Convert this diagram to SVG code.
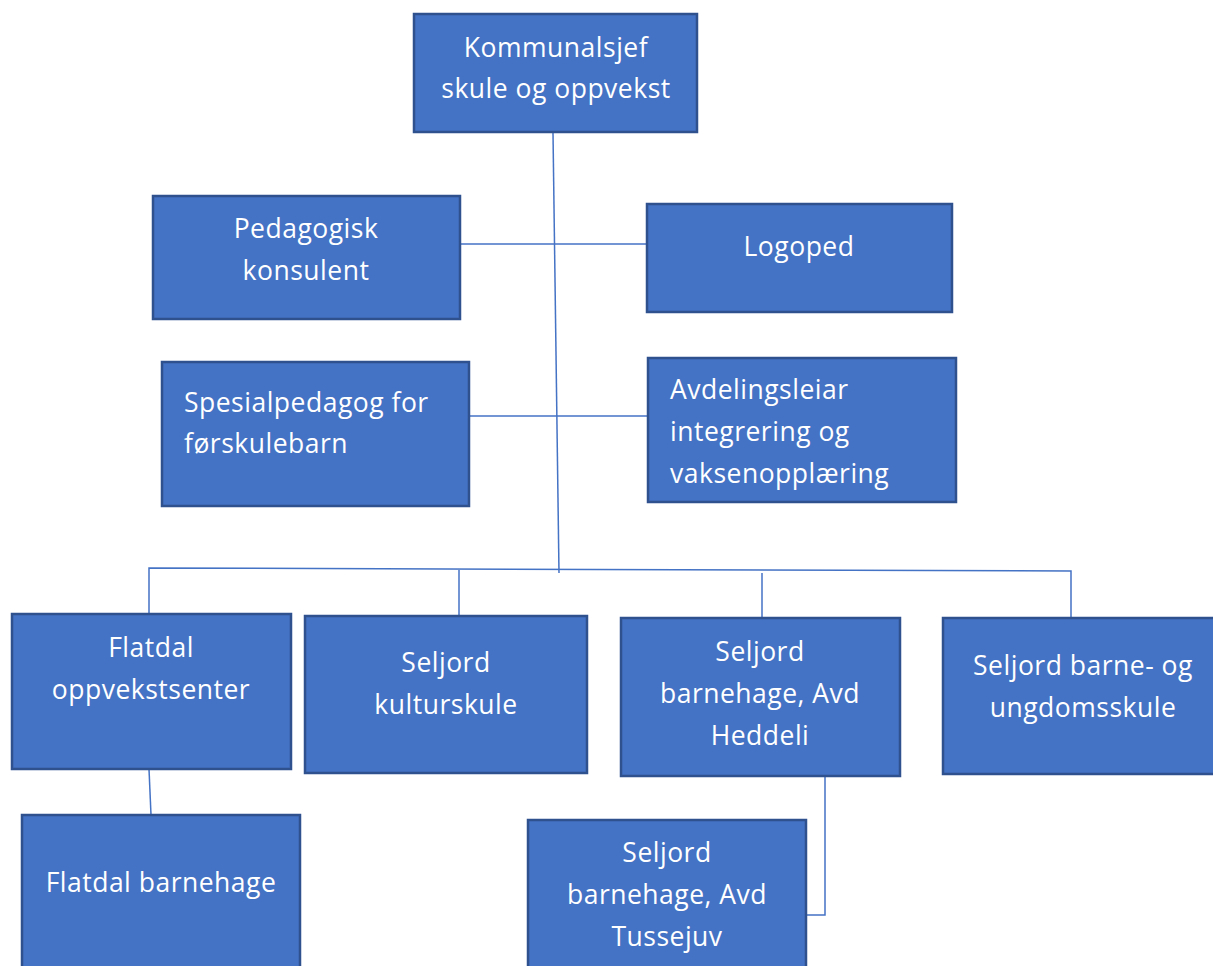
<svg xmlns="http://www.w3.org/2000/svg" width="1213" height="966" viewBox="0 0 1213 966">
<style>
.box{fill:#4472C4;stroke:#2F528F;stroke-width:2.5}
.t{font-family:"Open Sans","Liberation Sans",sans-serif;font-size:26.5px;letter-spacing:0.5px;fill:#fff}
.c{text-anchor:middle}
.ln{stroke:#4472C4;stroke-width:1.5;fill:none}
</style>
<rect width="1213" height="966" fill="#fff"/>
<g id="connectors">
<line class="ln" x1="553" y1="133" x2="559" y2="573"/>
<polyline class="ln" points="149,614 149,568 1071,571 1071,618"/>
<line class="ln" x1="459" y1="570" x2="459" y2="616"/>
<line class="ln" x1="762" y1="573" x2="762" y2="618"/>
<line class="ln" x1="460" y1="244" x2="647" y2="244"/>
<line class="ln" x1="469" y1="416" x2="648" y2="416"/>
<line class="ln" x1="149" y1="769" x2="151" y2="815"/>
<polyline class="ln" points="825,776 825,915 806,915"/>
</g>
<g id="n-kommunalsjef"><rect class="box" x="414" y="14" width="283" height="118"/>
<text class="t c" x="556" y="57">Kommunalsjef</text><text class="t c" x="556" y="98">skule og oppvekst</text></g>
<g id="n-pedagogisk"><rect class="box" x="153" y="196" width="307" height="123"/>
<text class="t c" x="306" y="238">Pedagogisk</text><text class="t c" x="306" y="280">konsulent</text></g>
<g id="n-logoped"><rect class="box" x="647" y="204" width="305" height="108"/>
<text class="t c" x="799" y="256">Logoped</text></g>
<g id="n-spesial"><rect class="box" x="162" y="362" width="307" height="144"/>
<text class="t" x="184" y="412">Spesialpedagog for</text><text class="t" x="184" y="453">førskulebarn</text></g>
<g id="n-avdeling"><rect class="box" x="648" y="358" width="308" height="144"/>
<text class="t" x="670" y="399">Avdelingsleiar</text><text class="t" x="670" y="441">integrering og</text><text class="t" x="670" y="483">vaksenopplæring</text></g>
<g id="n-flatdal-oppvekst"><rect class="box" x="12" y="614" width="279" height="155"/>
<text class="t c" x="151" y="657">Flatdal</text><text class="t c" x="151" y="699">oppvekstsenter</text></g>
<g id="n-kulturskule"><rect class="box" x="305" y="616" width="282" height="157"/>
<text class="t c" x="446" y="672">Seljord</text><text class="t c" x="446" y="714">kulturskule</text></g>
<g id="n-heddeli"><rect class="box" x="621" y="618" width="279" height="158"/>
<text class="t c" x="760" y="661">Seljord</text><text class="t c" x="760" y="703">barnehage, Avd</text><text class="t c" x="760" y="745">Heddeli</text></g>
<g id="n-ungdomsskule"><rect class="box" x="943" y="618" width="272" height="156"/>
<text class="t c" x="1083" y="675">Seljord barne- og</text><text class="t c" x="1083" y="717">ungdomsskule</text></g>
<g id="n-flatdal-barnehage"><rect class="box" x="22" y="815" width="278" height="155"/>
<text class="t c" x="161" y="892">Flatdal barnehage</text></g>
<g id="n-tussejuv"><rect class="box" x="528" y="820" width="278" height="150"/>
<text class="t c" x="667" y="862">Seljord</text><text class="t c" x="667" y="904">barnehage, Avd</text><text class="t c" x="667" y="946">Tussejuv</text></g>
</svg>
